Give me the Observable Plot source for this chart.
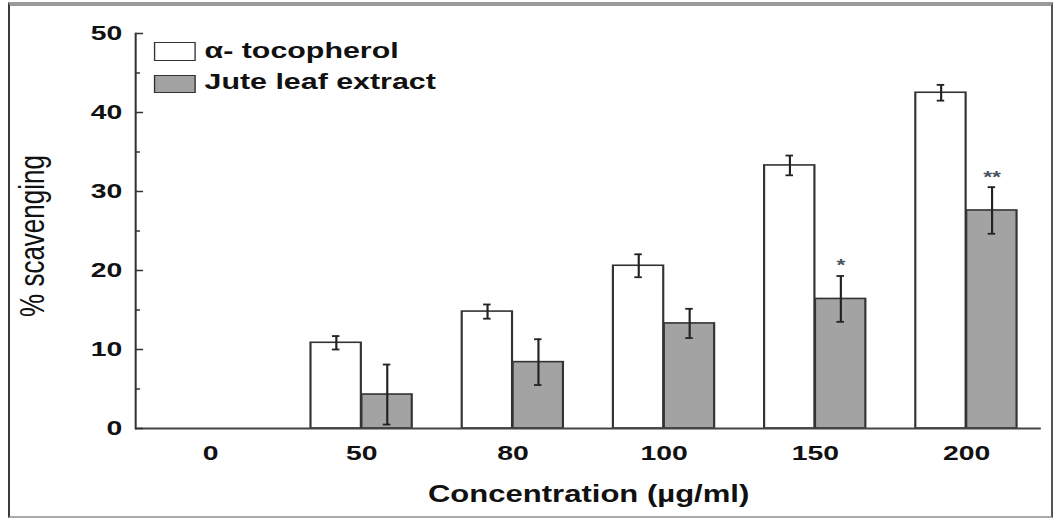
<!DOCTYPE html>
<html><head><meta charset="utf-8">
<script src="https://cdn.jsdelivr.net/npm/d3@7"></script>
<script src="https://cdn.jsdelivr.net/npm/@observablehq/plot@0.6"></script>
<style>
body{margin:0;background:#fff;overflow:hidden;}
#border{position:absolute;left:8px;top:2px;width:1045px;height:516px;box-sizing:border-box;border-left:2px solid #3a3a3a;border-right:2px solid #555;border-top:4px solid #9a9a9a;border-bottom:2px solid #aaa;}
#wrap{position:absolute;left:0;top:0;width:783px;height:519px;transform:scaleX(1.35);transform-origin:0 0;font-family:"Liberation Sans",Arial,sans-serif;}
#wrap svg{position:absolute;left:0;top:0;}
.box{position:absolute;box-sizing:border-box;border:1.6px solid #333;}
.lab{position:absolute;font-size:22.5px;font-weight:bold;line-height:22px;color:#111;white-space:nowrap;}
</style></head><body>
<div id="wrap"></div>
<div id="border"></div>
<script>
const concentrations = ["0", "50", "80", "100", "150", "200"];
const seriesNames = ["α- tocopherol", "Jute leaf extract"];
const alphaMean = [null, 10.85, 14.8, 20.6, 33.3, 42.5];
const alphaErr  = [null, 0.85, 0.9, 1.45, 1.25, 1.0];
const juteMean  = [null, 4.3, 8.4, 13.3, 16.4, 27.6];
const juteErr   = [null, 3.8, 2.9, 1.85, 2.9, 2.95];
const significance = ["", "", "", "", "*", "**"];
const yTicks = [0, 10, 20, 30, 40, 50];
const yMinorTicks = [5, 15, 25, 35, 45];

// layout (unscaled units; the page is stretched horizontally like the reference)
const W = 783, H = 519, mL = 100, mR = 12, mT = 33, mB = 91;
const pIn = 0.33, pOut = 0.145;
const step = (W - mL - mR) / (concentrations.length - pIn + 2 * pOut);
const bw = step * (1 - pIn);
const half = bw / 2, cap = 3;

const rows = (means, errs, sig) => concentrations.map((c, i) => ({conc: c, mean: means[i], err: errs[i], sig: sig ? sig[i] : ""}))
  .filter(d => d.mean != null);
const alpha = rows(alphaMean, alphaErr);
const jute = rows(juteMean, juteErr, significance);
const caps = data => data.flatMap(d => [{conc: d.conc, y: d.mean - d.err}, {conc: d.conc, y: d.mean + d.err}]);

const font = '"Liberation Sans", Arial, sans-serif';
const chart = Plot.plot({
  width: W, height: H,
  marginLeft: mL, marginRight: mR, marginTop: mT, marginBottom: mB,
  style: {fontFamily: font, background: "transparent", color: "#111"},
  x: {type: "band", domain: concentrations, paddingInner: pIn, paddingOuter: pOut, axis: null},
  y: {domain: [0, 50], axis: null},
  marks: [
    Plot.barY(alpha, {x: "conc", y: "mean", fill: "white", stroke: "#333", strokeWidth: 1.6, insetRight: half}),
    Plot.barY(jute, {x: "conc", y: "mean", fill: "#a3a3a3", stroke: "#333", strokeWidth: 1.6, insetLeft: half}),
    Plot.ruleX(alpha, {x: "conc", y1: d => d.mean - d.err, y2: d => d.mean + d.err, dx: -half / 2, stroke: "#222", strokeWidth: 1.6}),
    Plot.ruleX(jute, {x: "conc", y1: d => d.mean - d.err, y2: d => d.mean + d.err, dx: half / 2, stroke: "#222", strokeWidth: 1.6}),
    Plot.tickY(caps(alpha), {x: "conc", y: "y", dx: -half / 2, insetLeft: half - cap, insetRight: half - cap, stroke: "#222", strokeWidth: 1.8}),
    Plot.tickY(caps(jute), {x: "conc", y: "y", dx: half / 2, insetLeft: half - cap, insetRight: half - cap, stroke: "#222", strokeWidth: 1.8}),
    Plot.text(jute.filter(d => d.sig), {x: "conc", y: d => d.mean + d.err, text: "sig", dx: half / 2, dy: -10, fontSize: 17, fontWeight: "bold", fill: "#4a5462"}),
    Plot.ruleY([0], {stroke: "#444", strokeWidth: 2}),
    Plot.frame({anchor: "left", stroke: "#333", strokeWidth: 1.5}),
    Plot.axisY({ticks: yTicks, tickSize: 0, tickPadding: 10, fontSize: 21, fontWeight: "bold", label: null}),
    Plot.axisY({ticks: yTicks, tickSize: 6, dx: 6, tickFormat: () => "", label: null, stroke: "#333", strokeWidth: 1.5}),
    Plot.axisY({ticks: yMinorTicks, tickSize: 3.7, dx: 3.7, tickFormat: () => "", label: null, stroke: "#333", strokeWidth: 1.5}),
    Plot.axisX({tickSize: 0, tickPadding: 17, fontSize: 21, fontWeight: "bold", label: null}),
    Plot.text(["Concentration (µg/ml)"], {frameAnchor: "bottom", lineAnchor: "middle", textAnchor: "middle", dy: 66, fontSize: 23, fontWeight: "bold", fill: "#111"}),
    Plot.text(["% scavenging"], {frameAnchor: "left", textAnchor: "middle", lineAnchor: "middle", rotate: -90, dx: -76, dy: 5, fontSize: 26, fontWeight: "normal", fill: "#111"})
  ]
});
const wrap = document.getElementById("wrap");
wrap.appendChild(chart);

// legend (same stretched space)
const legendFills = ["white", "#a3a3a3"];
const boxTops = [42, 75], boxHeights = [19, 17.5], labTops = [39.5, 70.5];
seriesNames.forEach((name, i) => {
  const b = document.createElement("div");
  b.className = "box";
  b.style.cssText = `left:113.5px;top:${boxTops[i]}px;width:31px;height:${boxHeights[i]}px;background:${legendFills[i]};`;
  wrap.appendChild(b);
  const t = document.createElement("div");
  t.className = "lab";
  t.style.cssText = `left:151.5px;top:${labTops[i]}px;`;
  t.textContent = name;
  wrap.appendChild(t);
});
</script>
</body></html>
